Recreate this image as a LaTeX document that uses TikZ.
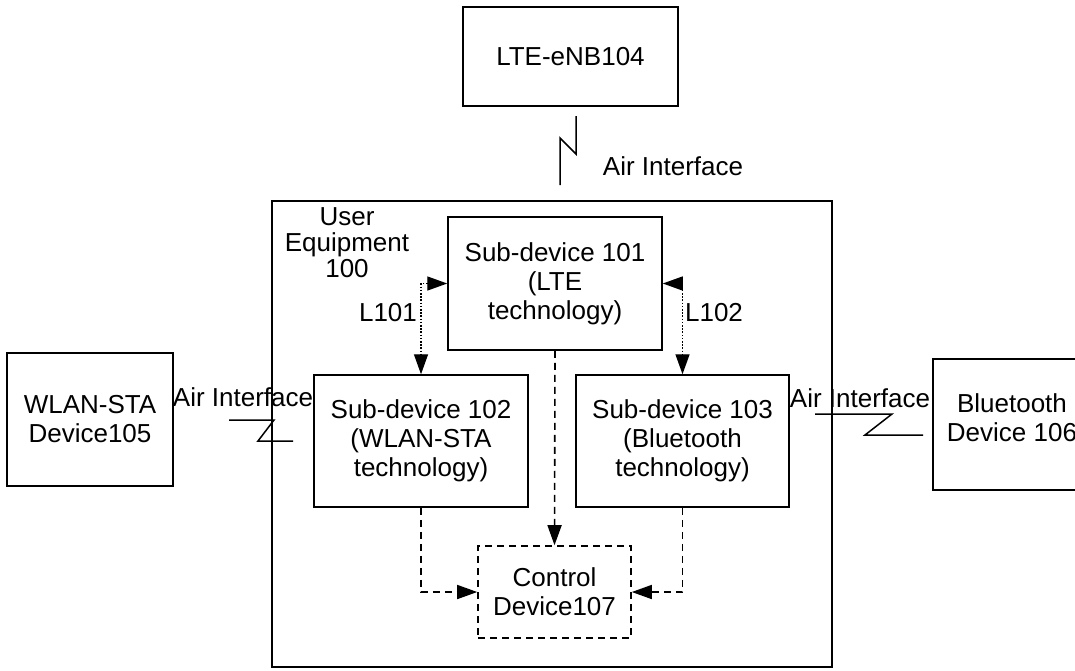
\documentclass[tikz,border=0pt]{standalone}
\usepackage{fontspec}
\setmainfont{Liberation Sans}
\usetikzlibrary{arrows.meta}
\begin{document}
\begin{tikzpicture}[x=1pt,y=-1pt,
  every node/.style={font=\fontsize{26}{29}\selectfont, align=center, inner sep=0pt},
  box/.style={draw, line width=1.5pt, rectangle},
  plain/.style={line width=1.5pt},
  tip/.tip={Triangle[length=20pt,width=14pt]},
  dotarrow/.style={line width=1.4pt, dash pattern=on 1.6pt off 1.6pt, {tip}-{tip}},
  dasharrow/.style={line width=1.6pt, dash pattern=on 7pt off 5pt, -{tip}},
  dashbox/.style={draw, line width=1.6pt, dash pattern=on 7pt off 5pt, rectangle}]
\useasboundingbox (0,0) rectangle (1075,670);

% LTE eNB
\node[box, minimum width=215pt, minimum height=99pt] (enb) at (570.5,56.5) {LTE-eNB104};

% Outer UE
\node[box, minimum width=560pt, minimum height=466pt] (ue) at (552,434) {};
\node[font=\fontsize{26}{26}\selectfont] (uelabel) at (347,243) {User\\Equipment\\100};

% Sub devices
\node[box, minimum width=214pt, minimum height=133pt] (s101) at (555,283.5) {Sub-device 101\\(LTE\\technology)};
\node[box, minimum width=214pt, minimum height=132pt] (s102) at (421,441) {Sub-device 102\\(WLAN-STA\\technology)};
\node[box, minimum width=213pt, minimum height=132pt] (s103) at (682.5,441) {Sub-device 103\\(Bluetooth\\technology)};
\node[dashbox, minimum width=153pt, minimum height=92pt] (ctrl) at (554.5,592) {Control\\Device107};

% External devices
\node[box, minimum width=166pt, minimum height=133pt] (wlan) at (90,419.5) {WLAN-STA\\Device105};
\draw[plain] (1080,359) coordinate (btr1) -- (933,359) coordinate (btl1) -- (933,490) coordinate (btl2) -- (1080,490) coordinate (btr2);
\node (bt) at (1012,418) {Bluetooth\\Device 106};

% L101 / L102
\coordinate (c1) at (421,283.5);
\coordinate (c2) at (682.5,283.5);
\draw[dotarrow] (s101.west) -- (c1) -- (c1 |- s102.north);
\draw[dotarrow] (s101.east) -- (c2) -- (c2 |- s103.north);
\node (l101) at (388,313) {L101};
\node (l102) at (714,313) {L102};

% dashed arrows to control
\draw[dasharrow] (s101.south) -- (ctrl.north);
\draw[dasharrow] (s102.south) |- (ctrl.west);
\draw[dasharrow] (s103.south) |- (ctrl.east);

% air interface lightnings
\coordinate (ta) at (576,116);
\coordinate (tb) at (576,154);
\coordinate (tc) at (560,138);
\coordinate (td) at (560,185);
\draw[plain] (ta) -- (tb) -- (tc) -- (td);
\node (airtop) at (673,166) {Air Interface};

\coordinate (la) at (229,420);
\coordinate (lb) at (274,420);
\coordinate (lc) at (258,441);
\coordinate (ld) at (293,441);
\draw[plain] (la) -- (lb) -- (lc) -- (ld);
\node (airleft) at (243,397) {Air Interface};

\coordinate (ra) at (815,414);
\coordinate (rb) at (892,414);
\coordinate (rc) at (865,435);
\coordinate (rd) at (923,435);
\draw[plain] (ra) -- (rb) -- (rc) -- (rd);
\node (airright) at (860,398) {Air Interface};
\end{tikzpicture}
\end{document}
